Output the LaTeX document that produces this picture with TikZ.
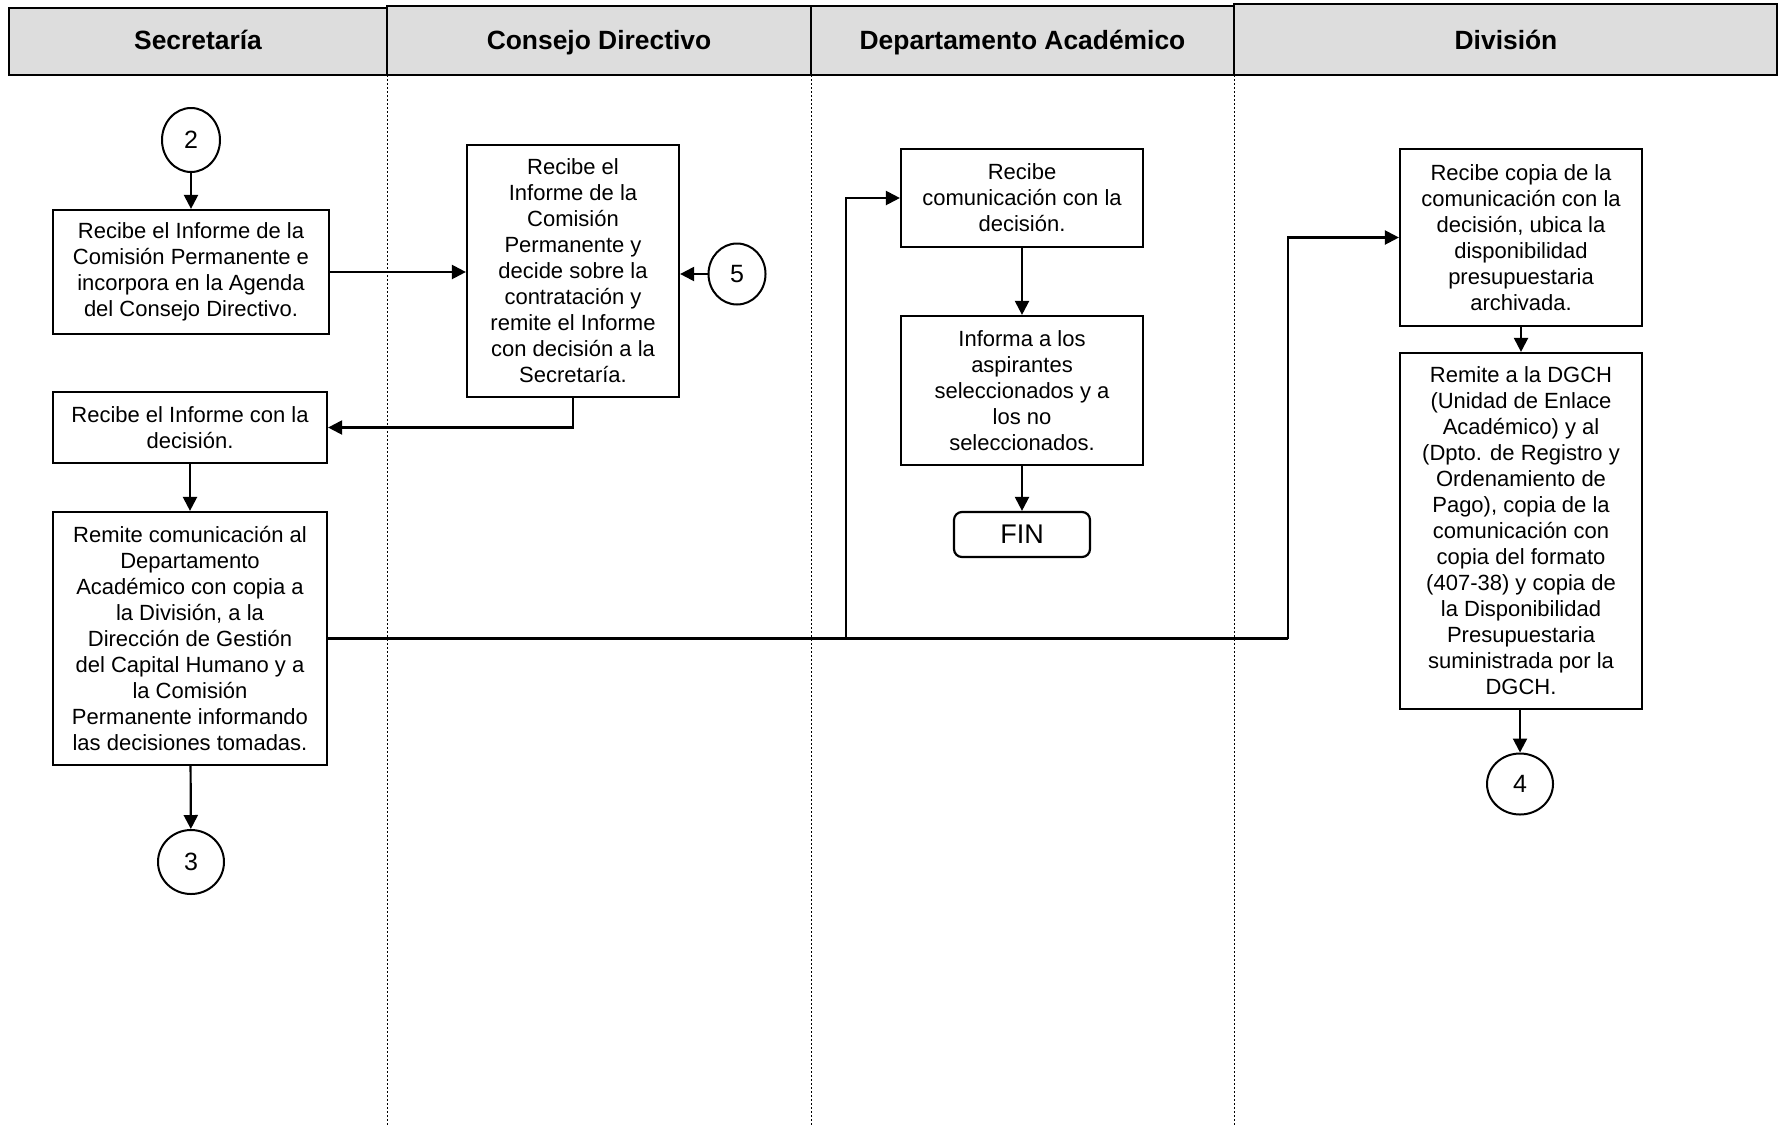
\documentclass[tikz,border=0pt]{standalone}
\usepackage{fontspec}
\setmainfont{Liberation Sans}
\usetikzlibrary{shapes.geometric,arrows.meta}
\definecolor{hdrgray}{RGB}{221,221,221}
\begin{document}
\begin{tikzpicture}[x=0.5pt,y=-0.5pt,
  hdr/.style={draw=black,line width=1.2pt,fill=hdrgray,inner sep=0pt},
  hdrtext/.style={font=\fontsize{13.2}{15}\selectfont\bfseries,inner sep=0pt,anchor=base},
  box/.style={draw=black,line width=1.1pt,fill=white,align=center,inner sep=0pt,font=\fontsize{11}{13}\selectfont},
  conn/.style={draw=black,line width=1pt,ellipse,inner sep=0pt,fill=white,font=\fontsize{12.5}{14}\selectfont},
  finbox/.style={draw=black,line width=1.1pt,rounded corners=4pt,inner sep=0pt,font=\fontsize{13.5}{15}\selectfont},
  arr/.style={draw=black,line width=1.1pt,-{Triangle[length=7pt,width=7pt]}},
  ln/.style={draw=black,line width=1.1pt},
  lane/.style={draw=black,line width=0.5pt,dash pattern=on 1pt off 1pt}]
\useasboundingbox (0,0) rectangle (1780,1125);
% lanes
\draw[lane] (387,75) -- (387,1125);
\draw[lane] (811,75) -- (811,1125);
\draw[lane] (1234,75) -- (1234,1125);
% headers
\node[hdr,minimum width=189pt,minimum height=33.5pt] (h1) at (198,41.5) {};
\node[hdr,minimum width=212pt,minimum height=34.5pt] (h2) at (599,40.5) {};
\node[hdr,minimum width=211.5pt,minimum height=34.5pt] (h3) at (1022.5,40.5) {};
\node[hdr,minimum width=271.5pt,minimum height=35.5pt] (h4) at (1505.5,39.5) {};
\node[hdrtext] (t1) at (198,49) {Secretaría};
\node[hdrtext] (t2) at (599,49) {Consejo Directivo};
\node[hdrtext] (t3) at (1022.5,49) {Departamento Académico};
\node[hdrtext] (t4) at (1506,49) {División};
% Secretaria
\node[conn,minimum width=29pt,minimum height=32pt] (c2) at (191,140) {2};
\node[box,minimum width=138pt,minimum height=62pt] (B1) at (191,272) {Recibe el Informe de la\\Comisión Permanente e\\incorpora en la Agenda\\del Consejo Directivo.};
\node[box,minimum width=137pt,minimum height=35.5pt] (B3) at (190,427.5) {Recibe el Informe con la\\decisión.};
\node[box,minimum width=137pt,minimum height=126.5pt] (B4) at (190,638.5) {Remite comunicación al\\Departamento\\Académico con copia a\\la División, a la\\Dirección de Gestión\\del Capital Humano y a\\la Comisión\\Permanente informando\\las decisiones tomadas.};
\node[conn,minimum width=33pt,minimum height=32pt] (c3) at (191,862) {3};
% Consejo
\node[box,minimum width=106pt,minimum height=126pt] (B2) at (573,271) {Recibe el\\Informe de la\\Comisión\\Permanente y\\decide sobre la\\contratación y\\remite el Informe\\con decisión a la\\Secretaría.};
\node[conn,minimum width=28.5pt,minimum height=30.5pt] (c5) at (737,274) {5};
% Departamento
\node[box,minimum width=121pt,minimum height=49pt] (D1) at (1022,198) {Recibe\\comunicación con la\\decisión.};
\node[box,minimum width=121pt,minimum height=74.5pt] (D2) at (1022,390.5) {Informa a los\\aspirantes\\seleccionados y a\\los no\\seleccionados.};
\node[finbox,minimum width=68pt,minimum height=22.5pt] (FIN) at (1022,534.5) {FIN};
% Division
\node[box,minimum width=121pt,minimum height=88.5pt] (V1) at (1521,237.5) {Recibe copia de la\\comunicación con la\\decisión, ubica la\\disponibilidad\\presupuestaria\\archivada.};
\node[box,minimum width=121pt,minimum height=178pt] (V2) at (1521,531) {Remite a la DGCH\\(Unidad de Enlace\\Académico) y al\\(Dpto. de Registro y\\Ordenamiento de\\Pago), copia de la\\comunicación con\\copia del formato\\(407-38) y copia de\\la Disponibilidad\\Presupuestaria\\suministrada por la\\DGCH.};
\node[conn,minimum width=33pt,minimum height=30.5pt] (c4) at (1520,784) {4};
% connectors
\draw[arr] (c2) -- (B1);
\draw[arr] (B1.east) -- (B1.east -| B2.west);
\draw[arr] (c5) -- (c5 -| B2.east);
\draw[arr] (B2.south) |- (B3.east);
\draw[arr] (B3) -- (B4);
\draw[arr] (B4) -- (c3);
\coordinate (j1) at (846,638.5);
\coordinate (j2) at (1288,638.5);
\draw[ln] (B4.east) -- (j2);
\draw[arr] (j1) |- (D1.west);
\draw[arr] (j2) |- (V1.west);
\draw[arr] (D1) -- (D2);
\draw[arr] (D2) -- (FIN);
\draw[arr] (V1) -- (V2);
\draw[arr] (V2.south -| c4) -- (c4);
\end{tikzpicture}
\end{document}
